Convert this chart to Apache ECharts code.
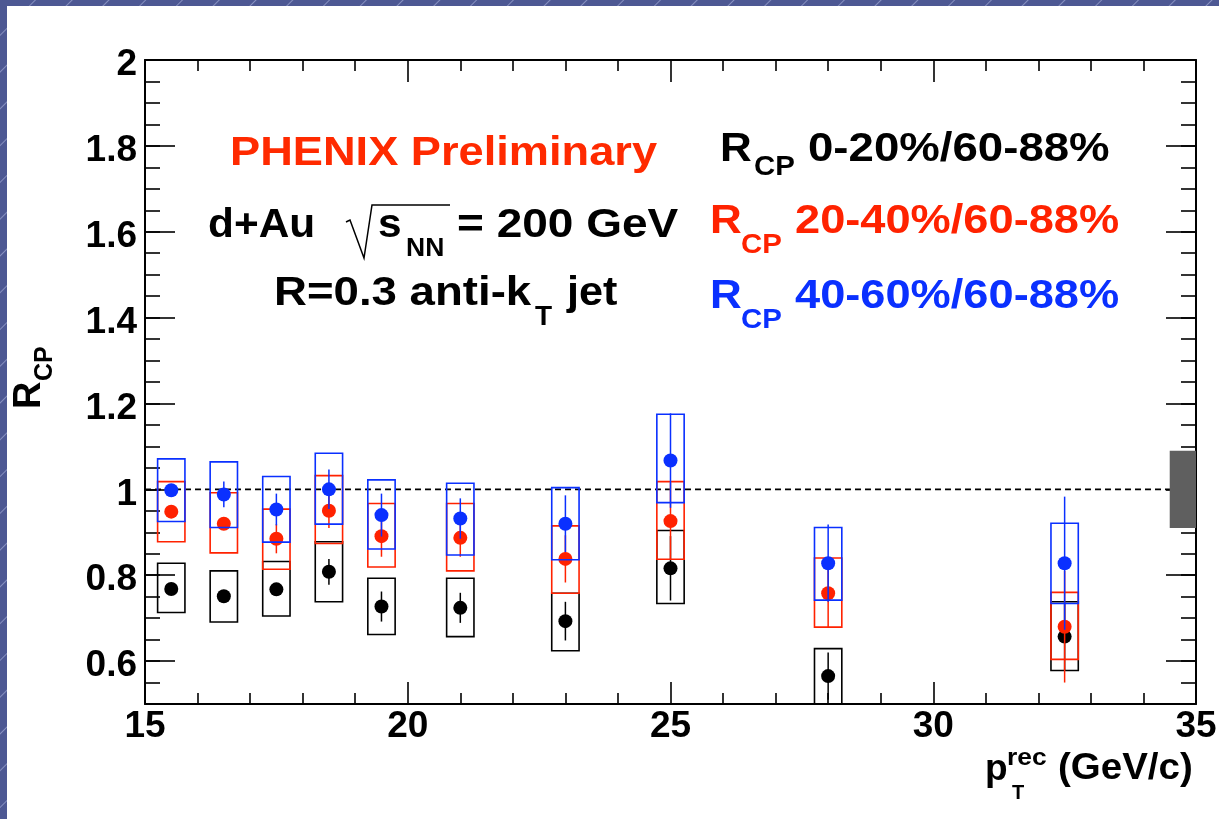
<!DOCTYPE html>
<html>
<head>
<meta charset="utf-8">
<script src="https://cdn.jsdelivr.net/npm/echarts@6/dist/echarts.min.js"></script>
<style>
  html, body { margin: 0; padding: 0; width: 1219px; height: 819px; overflow: hidden; }
  body { background: repeating-linear-gradient(135deg, #4d5893 0px, #4d5893 24px, #8790c0 25px, #4d5893 26px); }
  #panel { position: absolute; left: 7px; top: 6px; right: 0; bottom: 0; background: #fff; }
  #chart { position: absolute; left: 0; top: 0; width: 1219px; height: 819px; }
</style>
</head>
<body>
<div id="panel"></div>
<div id="chart"></div>
<script>
// jet pT bins (GeV/c)
const ptBins = [15.5, 16.5, 17.5, 18.5, 19.5, 21, 23, 25, 28, 32.5];
const boxHalfWidth = 0.26;

// R_CP 0-20% / 60-88%
const rcp0020 = [0.768, 0.751, 0.767, 0.808, 0.727, 0.724, 0.693, 0.816, 0.565, 0.657];
const stat0020 = [0.012, 0.012, 0.012, 0.03, 0.035, 0.035, 0.045, 0.075, 0.055, 0.08];
const sysLow0020 = [0.713, 0.691, 0.705, 0.738, 0.662, 0.657, 0.624, 0.734, 0.50, 0.578];
const sysHigh0020 = [0.828, 0.810, 0.832, 0.878, 0.793, 0.793, 0.758, 0.904, 0.629, 0.738];

// R_CP 20-40% / 60-88%
const rcp2040 = [0.948, 0.920, 0.885, 0.950, 0.891, 0.887, 0.838, 0.926, 0.758, 0.680];
const stat2040 = [0.012, 0.012, 0.034, 0.04, 0.048, 0.044, 0.055, 0.09, 0.08, 0.13];
const sysLow2040 = [0.878, 0.852, 0.814, 0.874, 0.819, 0.810, 0.758, 0.837, 0.679, 0.604];
const sysHigh2040 = [1.018, 0.992, 0.954, 1.032, 0.967, 0.967, 0.915, 1.018, 0.840, 0.760];

// R_CP 40-60% / 60-88%
const rcp4060 = [0.998, 0.988, 0.953, 1.000, 0.940, 0.932, 0.920, 1.067, 0.828, 0.828];
const stat4060 = [0.012, 0.03, 0.037, 0.046, 0.05, 0.047, 0.066, 0.11, 0.09, 0.155];
const sysLow4060 = [0.925, 0.911, 0.877, 0.919, 0.861, 0.847, 0.836, 0.969, 0.742, 0.734];
const sysHigh4060 = [1.071, 1.064, 1.030, 1.084, 1.022, 1.014, 1.004, 1.175, 0.911, 0.921];

// global normalisation uncertainty box and unity line
const normBoxX = [34.5, 35];
const normBoxY = [0.91, 1.09];
const unityX = [15, 35];
const unityY = 1;

const yTickLabels = [0.6, 0.8, 1, 1.2, 1.4, 1.6, 1.8, 2];

const FONT = '"Liberation Sans", Arial, Helvetica, sans-serif';
const RED = '#ff2200';
const BLUE = '#0a30ff';

function boxSeries(color, lo, hi, z) {
  return {
    type: 'custom',
    z: z,
    data: ptBins.map((x, i) => [x, lo[i], hi[i]]),
    encode: { x: 0, y: [1, 2] },
    clip: true,
    renderItem: (params, api) => {
      const x = api.value(0);
      const a = api.coord([x - boxHalfWidth, api.value(2)]);
      const b = api.coord([x + boxHalfWidth, api.value(1)]);
      return {
        type: 'rect',
        shape: { x: a[0], y: a[1], width: b[0] - a[0], height: b[1] - a[1] },
        style: { fill: 'none', stroke: color, lineWidth: 1.6 }
      };
    }
  };
}

function errSeries(color, vals, stat, z) {
  return {
    type: 'custom',
    z: z,
    data: ptBins.map((x, i) => [x, vals[i] - stat[i], vals[i] + stat[i]]),
    encode: { x: 0, y: [1, 2] },
    clip: true,
    renderItem: (params, api) => {
      const top = api.coord([api.value(0), api.value(2)]);
      const bot = api.coord([api.value(0), api.value(1)]);
      return {
        type: 'line',
        shape: { x1: top[0], y1: top[1], x2: bot[0], y2: bot[1] },
        style: { stroke: color, lineWidth: 1.5 }
      };
    }
  };
}

function pointSeries(color, vals, z) {
  return {
    type: 'scatter',
    z: z,
    data: ptBins.map((x, i) => [x, vals[i]]),
    symbol: 'circle',
    symbolSize: 14,
    itemStyle: { color: color, opacity: 1 },
    clip: true
  };
}

const tickStyle = { color: '#000', width: 1.6 };
const lineStyle = { color: '#000', width: 2 };

const xAxisCommon = {
  type: 'value', min: 15, max: 35, interval: 5,
  axisLine: { onZero: false, lineStyle: lineStyle },
  axisTick: { inside: true, length: 22, lineStyle: tickStyle },
  minorTick: { show: true, splitNumber: 5, length: 11, lineStyle: tickStyle },
  splitLine: { show: false }
};

function yAxisPair(position, withLabels) {
  return [
    {
      type: 'value', position: position, offset: 0, min: 0.5, max: 2,
      axisLine: { onZero: false, lineStyle: lineStyle },
      axisTick: { inside: true, length: 30, customValues: yTickLabels, lineStyle: tickStyle },
      axisLabel: withLabels ? {
        customValues: yTickLabels,
        margin: 8,
        formatter: v => '{v|' + v + '}',
        rich: {
          v: {
            fontFamily: FONT, fontWeight: 'bold', fontSize: 37, color: '#000',
            padding: [10, 0, 0, 0]
          }
        }
      } : { show: false },
      splitLine: { show: false }
    },
    {
      type: 'value', position: position, offset: 0, min: 0.5, max: 2, interval: 0.05,
      axisLine: { show: false, onZero: false },
      axisTick: { inside: true, length: 15, lineStyle: tickStyle },
      axisLabel: { show: false },
      splitLine: { show: false }
    }
  ];
}

function txt(text, x, y, size, color, scaleX) {
  return {
    type: 'text', x: x, y: y, scaleX: scaleX || 1,
    style: {
      text: text, fill: color, fontFamily: FONT, fontWeight: 'bold', fontSize: size,
      align: 'left', verticalAlign: 'middle'
    }
  };
}

const chart = echarts.init(document.getElementById('chart'), null, { renderer: 'canvas' });

chart.setOption({
  animation: false,
  backgroundColor: 'transparent',
  grid: { left: 145, right: 23, top: 60, bottom: 115, outerBoundsMode: 'none' },
  xAxis: [
    Object.assign({}, xAxisCommon, {
      position: 'bottom',
      axisLabel: {
        fontFamily: FONT, fontWeight: 'bold', fontSize: 37, color: '#000', margin: 4,
        showMinLabel: true, showMaxLabel: true
      }
    }),
    Object.assign({}, xAxisCommon, { position: 'top', axisLabel: { show: false } })
  ],
  yAxis: yAxisPair('left', true).concat(yAxisPair('right', false)),
  series: [
    {
      type: 'line',
      z: 1,
      data: unityX.map(x => [x, unityY]),
      symbol: 'none',
      lineStyle: { color: '#000', width: 1.6, type: [6, 4] },
      silent: true
    },
    boxSeries('#000', sysLow0020, sysHigh0020, 2),
    errSeries('#000', rcp0020, stat0020, 3),
    pointSeries('#000', rcp0020, 4),
    boxSeries(RED, sysLow2040, sysHigh2040, 5),
    errSeries(RED, rcp2040, stat2040, 6),
    pointSeries(RED, rcp2040, 7),
    boxSeries(BLUE, sysLow4060, sysHigh4060, 8),
    errSeries(BLUE, rcp4060, stat4060, 9),
    pointSeries(BLUE, rcp4060, 10),
    {
      type: 'custom',
      z: 11,
      data: [[normBoxX[0], normBoxX[1], normBoxY[0], normBoxY[1]]],
      encode: { x: [0, 1], y: [2, 3] },
      renderItem: (params, api) => {
        const a = api.coord([api.value(0), api.value(3)]);
        const b = api.coord([api.value(1), api.value(2)]);
        return {
          type: 'rect',
          shape: { x: a[0], y: a[1], width: b[0] - a[0], height: b[1] - a[1] },
          style: { fill: '#5f5f5f' }
        };
      }
    }
  ],
  graphic: {
    elements: [
      // annotations
      txt('PHENIX Preliminary', 230, 154, 40, '#ff2a00', 1.13),
      txt('d+Au', 208, 226, 40, '#000', 1.06),
      {
        type: 'polyline',
        shape: { points: [[346, 222], [350, 220], [364, 258], [372, 205], [450, 205]] },
        style: { stroke: '#000', lineWidth: 1.5, fill: null }
      },
      txt('s', 378, 226, 40, '#000', 1.06),
      txt('NN', 406, 249, 25, '#000', 1.06),
      txt('= 200 GeV', 457, 226, 40, '#000', 1.15),
      txt('R=0.3 anti-k', 274, 294, 40, '#000', 1.14),
      txt('T', 535, 317, 28, '#000', 1.0),
      txt('jet', 567, 294, 40, '#000', 1.08),

      // legend-like labels
      txt('R', 720, 150, 40, '#000', 1.1),
      txt('CP', 754, 167, 28, '#000', 1.05),
      txt('0-20%/60-88%', 808, 150, 40, '#000', 1.14),
      txt('R', 710, 222, 40, RED, 1.1),
      txt('CP', 741, 245, 28, RED, 1.05),
      txt('20-40%/60-88%', 795, 222, 40, RED, 1.13),
      txt('R', 710, 297, 40, BLUE, 1.1),
      txt('CP', 741, 320, 28, BLUE, 1.05),
      txt('40-60%/60-88%', 795, 297, 40, BLUE, 1.13),

      // x axis title
      txt('p', 985, 770, 37, '#000'),
      txt('rec', 1007, 758, 24, '#000', 1.1),
      txt('T', 1012, 793, 20, '#000'),
      txt('(GeV/c)', 1058, 769, 37, '#000', 1.04),

      // y axis title (rotated)
      {
        type: 'group', x: 3, y: 409, rotation: Math.PI / 2,
        children: [
          txt('R', 0, 27, 38, '#000'),
          txt('CP', 28, 42, 25, '#000')
        ]
      }
    ]
  }
});
</script>
</body>
</html>
